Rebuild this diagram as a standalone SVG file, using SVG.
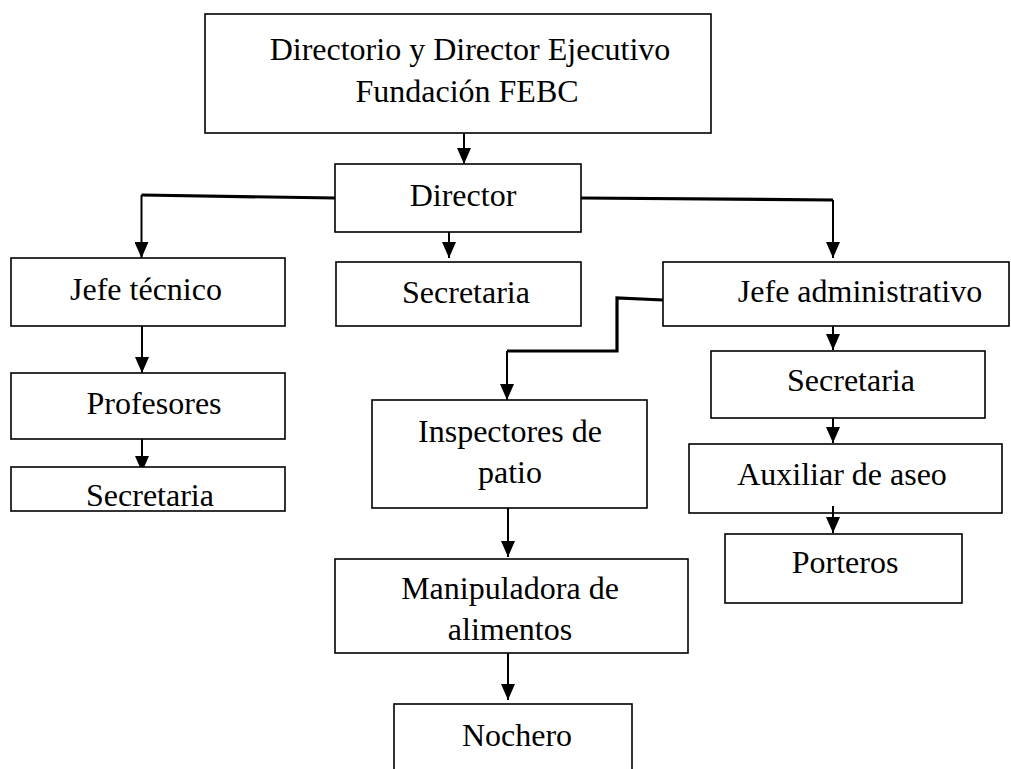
<svg xmlns="http://www.w3.org/2000/svg" width="1011" height="769" viewBox="0 0 1011 769">
<style>
.box{fill:#fff;stroke:#000;stroke-width:1.6}
.t{font-family:"Liberation Serif","Times New Roman",serif;font-size:32px;fill:#000;text-anchor:middle}
.c{fill:none;stroke:#000;stroke-width:2}
.thick{fill:none;stroke:#000;stroke-width:3.2;stroke-linejoin:miter}
</style>
<defs>
<marker id="ah" viewBox="0 0 16 14" refX="16" refY="7" markerWidth="16" markerHeight="14" markerUnits="userSpaceOnUse" orient="auto">
<path d="M0,0 L16,7 L0,14 z" fill="#000"/>
</marker>
</defs>
<rect width="1011" height="769" fill="#fff"/>
<g id="connectors">
<line class="c" x1="464" y1="133" x2="464" y2="164" marker-end="url(#ah)"/>
<line class="c" x1="449" y1="232" x2="449" y2="258" marker-end="url(#ah)"/>
<path class="thick" d="M335,198 L141.5,195"/>
<line class="c" x1="141.5" y1="195" x2="141.5" y2="258" marker-end="url(#ah)"/>
<path class="thick" d="M581,198 L833,200"/>
<line class="c" x1="833" y1="200" x2="833" y2="258" marker-end="url(#ah)"/>
<path class="thick" d="M663,300 L617,298 L617,351 L507,351"/>
<line class="c" x1="507" y1="351" x2="507" y2="400" marker-end="url(#ah)"/>
<line class="c" x1="142" y1="326" x2="142" y2="373" marker-end="url(#ah)"/>
<line class="c" x1="142" y1="439" x2="142" y2="472" marker-end="url(#ah)"/>
<line class="c" x1="508" y1="508" x2="508" y2="557" marker-end="url(#ah)"/>
<line class="c" x1="508" y1="653" x2="508" y2="700" marker-end="url(#ah)"/>
<line class="c" x1="833" y1="326" x2="833" y2="350" marker-end="url(#ah)"/>
<line class="c" x1="833" y1="418" x2="833" y2="443" marker-end="url(#ah)"/>
</g>
<g id="n-top"><rect class="box" x="205" y="14" width="506" height="119"/>
<text class="t" x="470" y="60">Directorio y Director Ejecutivo</text>
<text class="t" x="467" y="102">Fundación FEBC</text></g>
<g id="n-director"><rect class="box" x="335" y="164" width="246" height="68"/><text class="t" x="463" y="206">Director</text></g>
<g id="n-jefe-tecnico"><rect class="box" x="11" y="258" width="274" height="68"/><text class="t" x="146" y="300">Jefe técnico</text></g>
<g id="n-secretaria-dir"><rect class="box" x="336" y="262" width="245" height="64"/><text class="t" x="466" y="303">Secretaria</text></g>
<g id="n-jefe-admin"><rect class="box" x="663" y="262" width="346" height="64"/><text class="t" x="860" y="302">Jefe administrativo</text></g>
<g id="n-profesores"><rect class="box" x="11" y="373" width="274" height="66"/><text class="t" x="154" y="414">Profesores</text></g>
<g id="n-secretaria-jt"><rect class="box" x="11" y="467" width="274" height="44"/><text class="t" x="150" y="506">Secretaria</text></g>
<g id="n-inspectores"><rect class="box" x="372" y="400" width="275" height="108"/>
<text class="t" x="510" y="442">Inspectores de</text><text class="t" x="510" y="483">patio</text></g>
<g id="n-secretaria-adm"><rect class="box" x="711" y="351" width="274" height="67"/><text class="t" x="851" y="391">Secretaria</text></g>
<g id="n-auxiliar"><rect class="box" x="689" y="444" width="313" height="69"/><text class="t" x="842" y="485">Auxiliar de aseo</text></g>
<g id="n-porteros"><rect class="box" x="725" y="534" width="237" height="69"/><text class="t" x="845" y="573">Porteros</text></g>
<g id="n-manipuladora"><rect class="box" x="335" y="559" width="353" height="94"/>
<text class="t" x="510" y="599">Manipuladora de</text><text class="t" x="510" y="640">alimentos</text></g>
<g id="n-nochero"><rect class="box" x="394" y="704" width="238" height="72"/><text class="t" x="517" y="746">Nochero</text></g>
<line class="c" x1="833" y1="506" x2="833" y2="533" marker-end="url(#ah)"/>
</svg>
